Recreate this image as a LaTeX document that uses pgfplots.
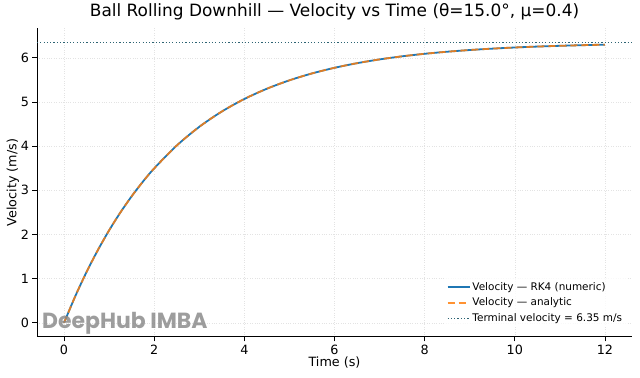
\documentclass[border=0pt]{standalone}
\usepackage{fontspec}
\setmainfont{DejaVu Sans}
\newfontfamily\wmfont{Poppins}
\usepackage{pgfplots}
\pgfplotsset{compat=1.18}
\definecolor{mblue}{HTML}{1F77B4}
\definecolor{morange}{HTML}{FF7F0E}
\definecolor{mterm}{RGB}{45,100,115}
\begin{document}
\begin{tikzpicture}
\begin{axis}[
  scale only axis,
  width=595bp, height=308.5bp,
  xmin=-0.6, xmax=12.6,
  ymin=-0.3175, ymax=6.6675,
  axis lines*=left,
  axis line style={line width=0.9bp},
  xtick={0,2,4,6,8,10,12},
  ytick={0,1,2,3,4,5,6},
  tick align=outside,
  major tick length=4.5bp,
  tick style={line width=0.9bp, black},
  grid=major,
  major grid style={dotted, black!11, line width=0.6bp},
  tick label style={font=\fontsize{12.8}{15}\selectfont},
  /pgf/number format/assume math mode=true,
  xlabel={Time (s)},
  ylabel={Velocity (m/s)},
  label style={font=\fontsize{12.8}{15}\selectfont},
  xlabel style={yshift=5bp},
  ylabel style={yshift=-5bp},
  title={Ball Rolling Downhill — Velocity vs Time (θ=15.0°, μ=0.4)},
  title style={font=\fontsize{17}{20}\selectfont, yshift=-1bp},
  clip=false,
  legend style={at={(0.992,0.03)}, anchor=south east, draw=none, fill=white, fill opacity=0.8, text opacity=1,
    font=\fontsize{10.5}{12.5}\selectfont, row sep=2.5bp},
  legend cell align=left,
  legend image code/.code={\draw[#1] (0bp,0bp) -- (22bp,0bp);},
]
\addplot[mblue, line width=1.8bp, smooth] coordinates {
(0,0) (0.25,0.6043) (0.5,1.1511) (0.75,1.6458) (1.0,2.0935) (1.25,2.4985)
(1.5,2.8650) (1.75,3.1967) (2.0,3.4968) (2.5,4.0140) (3.0,4.4374) (3.5,4.7841)
(4.0,5.0680) (4.5,5.3003) (5.0,5.4906) (5.5,5.6464) (6.0,5.7739) (6.5,5.8784)
(7.0,5.9639) (7.5,6.0339) (8.0,6.0912) (8.5,6.1381) (9.0,6.1765) (9.5,6.2079)
(10.0,6.2337) (10.5,6.2548) (11.0,6.2720) (11.5,6.2862) (12.0,6.2977)
};
\addlegendentry{Velocity — RK4 (numeric)}
\addplot[morange, opacity=0.85, line width=1.8bp, dash pattern=on 7bp off 4bp, smooth] coordinates {
(0,0) (0.25,0.6043) (0.5,1.1511) (0.75,1.6458) (1.0,2.0935) (1.25,2.4985)
(1.5,2.8650) (1.75,3.1967) (2.0,3.4968) (2.5,4.0140) (3.0,4.4374) (3.5,4.7841)
(4.0,5.0680) (4.5,5.3003) (5.0,5.4906) (5.5,5.6464) (6.0,5.7739) (6.5,5.8784)
(7.0,5.9639) (7.5,6.0339) (8.0,6.0912) (8.5,6.1381) (9.0,6.1765) (9.5,6.2079)
(10.0,6.2337) (10.5,6.2548) (11.0,6.2720) (11.5,6.2862) (12.0,6.2977)
};
\addlegendentry{Velocity — analytic}
\addplot[mterm, line width=1.2bp, dash pattern=on 1.2bp off 2.1bp] coordinates {(-0.6,6.35) (12.6,6.35)};
\addlegendentry{Terminal velocity = 6.35 m/s}
\node[anchor=south west, text=black!48, opacity=0.8, font=\wmfont\bfseries\fontsize{22}{24}\selectfont, inner sep=0pt]
  at ([xshift=5bp,yshift=2bp]rel axis cs:0,0) {DeepHub IMBA};
\coordinate (O) at (rel axis cs:0,0);
\end{axis}
\path (O) ++(-37bp,-41bp) rectangle ++(640bp,374bp);
\end{tikzpicture}
\end{document}
